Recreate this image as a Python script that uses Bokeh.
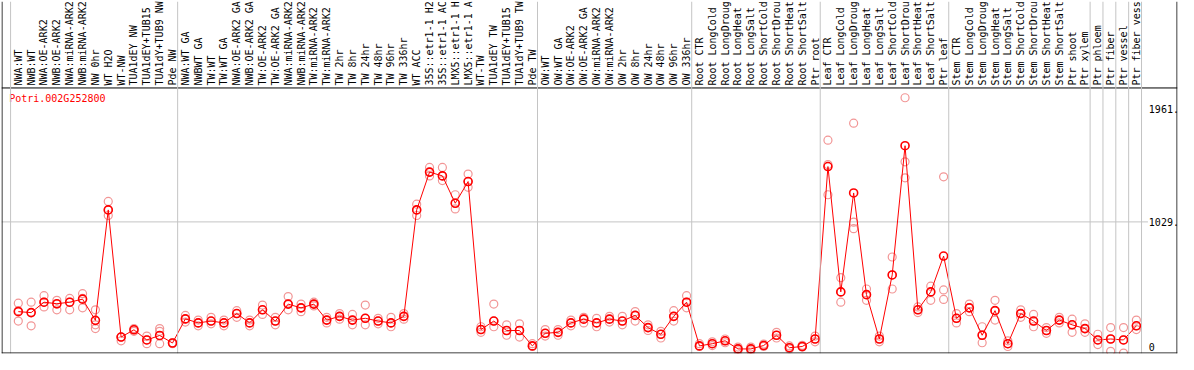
import math
from bokeh.plotting import figure
from bokeh.models import Range1d, Span, ColumnDataSource
from bokeh.core.properties import value
from bokeh.embed import file_html
from bokeh.resources import INLINE

gene = "Potri.002G252800"

samples = [
    "NWA:WT", "NWB:WT", "NWA:OE-ARK2", "NWB:OE-ARK2", "NWA:miRNA-ARK2", "NWB:miRNA-ARK2",
    "NW 0hr", "WT H2O", "WT-NW", "TUA1dEY NW", "TUA1dEY+TUB15 NW", "TUA1dY+TUB9 NW", "Pde NW",
    "NWA:WT GA", "NWBWT GA", "TW:WT", "TW:WT GA", "NWA:OE-ARK2 GA", "NWB:OE-ARK2 GA",
    "TW:OE-ARK2", "TW:OE-ARK2 GA", "NWA:miRNA-ARK2 GA", "NWB:miRNA-ARK2 GA", "TW:miRNA-ARK2",
    "TW:miRNA-ARK2 GA", "TW 2hr", "TW 8hr", "TW 24hr", "TW 48hr", "TW 96hr", "TW 336hr",
    "WT ACC", "35S::etr1-1 H2O", "35S::etr1-1 ACC", "LMX5::etr1-1 H2O", "LMX5::etr1-1 ACC",
    "WT-TW", "TUA1dEY TW", "TUA1dEY+TUB15 TW", "TUA1dY+TUB9 TW", "Pde TW",
    "OW:WT", "OW:WT GA", "OW:OE-ARK2", "OW:OE-ARK2 GA", "OW:miRNA-ARK2", "OW:miRNA-ARK2 GA",
    "OW 2hr", "OW 8hr", "OW 24hr", "OW 48hr", "OW 96hr", "OW 336hr",
    "Root CTR", "Root LongCold", "Root LongDrought", "Root LongHeat", "Root LongSalt",
    "Root ShortCold", "Root ShortDrought", "Root ShortHeat", "Root ShortSalt", "Ptr root",
    "Leaf CTR", "Leaf LongCold", "Leaf LongDrought", "Leaf LongHeat", "Leaf LongSalt",
    "Leaf ShortCold", "Leaf ShortDrought", "Leaf ShortHeat", "Leaf ShortSalt", "Ptr leaf",
    "Stem CTR", "Stem LongCold", "Stem LongDrought", "Stem LongHeat", "Stem LongSalt",
    "Stem ShortCold", "Stem ShortDrought", "Stem ShortHeat", "Stem ShortSalt", "Ptr shoot",
    "Ptr xylem", "Ptr phloem", "Ptr fiber", "Ptr vessel", "Ptr fiber vessel",
]

means = [
    288, 280, 366, 353, 366, 391, 216, 1128, 78, 138, 54, 91, 29,
    228, 195, 210, 195, 272, 195, 303, 210, 350, 319, 350, 218, 249, 218, 233, 210, 195, 249,
    1128, 1440, 1409, 1183, 1362, 140, 210, 132, 132, 5,
    109, 117, 195, 226, 195, 226, 210, 257, 156, 101, 249, 366,
    5, 23, 47, -20, -20, 8, 93, -10, 0, 62,
    1486, 451, 1268, 428, 62, 591, 1658, 303, 451, 747,
    233, 319, 93, 296, 23, 272, 210, 132, 218, 179, 148,
    54, 62, 54, 171,
]

rep1 = [
    358, 366, 420, 381, 397, 436, 303, 1198, 78, 148, 86, 148, 31,
    257, 218, 241, 218, 296, 218, 342, 241, 412, 350, 366, 241, 272, 265, 342, 233, 241, 272,
    1175, 1479, 1479, 1253, 1424, 163, 350, 179, 187, 23,
    140, 140, 218, 241, 233, 249, 249, 288, 179, 125, 296, 420,
    23, 39, 62, -5, -5, 20, 117, 5, 10, 86,
    1704, 568, 1844, 475, 86, 739, 2054, 327, 498, 1401,
    272, 350, 163, 381, 47, 303, 265, 156, 241, 226, 187,
    101, 156, 156, 218,
]

rep2 = [
    296, 280, 366, 350, 366, 397, 179, 1128, 78, 140, 54, 125, 31,
    226, 195, 210, 195, 272, 195, 303, 210, 350, 319, 350, 218, 249, 218, 233, 210, 195, 249,
    1128, 1440, 1409, 1183, 1362, 140, 210, 132, 132, 0,
    109, 117, 195, 226, 195, 226, 210, 257, 156, 101, 249, 366,
    0, 23, 47, -20, -20, 8, 93, -10, 0, 62,
    1502, 451, 1027, 428, 62, 591, 1525, 303, 451, 467,
    233, 319, 93, 296, 23, 272, 210, 132, 218, 179, 148,
    54, 62, 54, 171,
]

rep3 = [
    210, 171, 327, 303, 303, 319, 148, 1082, 47, 125, 23, 23, 23,
    202, 171, 187, 171, 241, 171, 265, 179, 303, 288, 335, 195, 226, 179, 179, 187, 163, 226,
    1082, 1409, 1370, 1136, 1315, 117, 163, 93, 78, 0,
    86, 93, 171, 195, 163, 202, 179, 210, 132, 70, 210, 319,
    0, 8, 31, -35, -35, 0, 70, -20, -5, 39,
    1253, 366, 973, 381, 39, 475, 1393, 280, 381, 389,
    195, 288, 31, 218, 0, 241, 163, 109, 195, 117, 117,
    16, -40, -54, 140,
]

y_ticks = [1961, 1029, 0]
y_tick_text = ["1961.", "1029.", "0"]

group_bounds = [0, 13, 41, 53, 63, 73, 84, 85, 86, 87, 88]

n = len(samples)
xs = [i + 0.6 for i in range(n)]

# layout constants (in the plot's value units)
X_LEFT, X_RIGHT = -0.707, 90.80
Y_TOP, Y_BOT = 2849, -57.8
LABEL_Y = 2155
SEP_Y = 2135
TITLE_Y = 2052

W, H = 1178, 354
p = figure(width=W, height=H, output_backend="svg", toolbar_location=None,
           x_range=Range1d(X_LEFT, X_RIGHT), y_range=Range1d(Y_BOT, Y_TOP),
           min_border=1, min_border_left=1, min_border_right=1,
           min_border_top=1, min_border_bottom=1)
p.xaxis.visible = False
p.yaxis.visible = False
p.xgrid.visible = False
p.ygrid.visible = False
p.outline_line_color = None
p.background_fill_color = "white"
p.border_fill_color = "white"

# half-pixel insets so that the border lines are fully inside the frame
dx = 0.5 * (X_RIGHT - X_LEFT) / (W - 2)
dy = 0.5 * (Y_TOP - Y_BOT) / (H - 2)

mono = value("DejaVu Sans Mono")

for b in group_bounds:
    p.add_layout(Span(location=b, dimension="height", line_color="#c4c4c4", line_width=1))

# frame lines: left, right, bottom (no top line)
p.add_layout(Span(location=X_LEFT + dx, dimension="height", line_color="black", line_width=1))
p.add_layout(Span(location=X_RIGHT - dx, dimension="height", line_color="black", line_width=1))
p.add_layout(Span(location=Y_BOT + dy, dimension="width", line_color="black", line_width=1))

# horizontal reference line at 1029 (stops before tick text)
p.segment(x0=[X_LEFT], y0=[1029], x1=[88.5], y1=[1029], line_color="#c4c4c4", line_width=1)

# separator below sample labels
p.segment(x0=[X_LEFT], y0=[SEP_Y], x1=[X_RIGHT], y1=[SEP_Y], line_color="black", line_width=1)

# sample labels (rotated)
lab_src = ColumnDataSource(dict(x=xs, y=[LABEL_Y] * n, t=samples))
p.text(x="x", y="y", text="t", source=lab_src, angle=math.pi / 2,
       text_align="left", text_baseline="middle", text_font=mono,
       text_font_size="10px", text_color="black")

# gene title
p.text(x=[-0.11], y=[TITLE_Y], text=[gene], text_align="left", text_baseline="middle",
       text_font=mono, text_font_size="10px", text_color="#ff0000")

# y tick labels
p.text(x=[88.57] * len(y_ticks), y=y_ticks, text=y_tick_text, text_align="left",
       text_baseline="middle", text_font=mono, text_font_size="10px", text_color="black")

# replicates
for r in (rep1, rep2, rep3):
    p.scatter(xs, r, marker="circle", size=8, fill_color=None,
              line_color="#f29696", line_width=1.2)

# mean line & markers
p.line(xs, means, line_color="#ff0000", line_width=1)
p.scatter(xs, means, marker="circle", size=8, fill_color=None,
          line_color="#ff0000", line_width=1.6)

open("out.html", "w").write(file_html(p, INLINE))
